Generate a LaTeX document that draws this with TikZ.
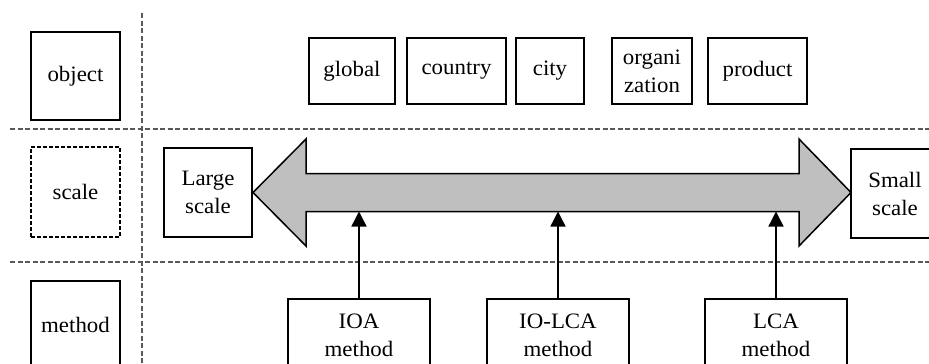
\documentclass[tikz,border=0pt]{standalone}
\usepackage{fontspec}
\setmainfont{Liberation Serif}[FakeStretch=1.04]
\usetikzlibrary{arrows.meta}

\tikzset{
  box/.style={draw, line width=1.5pt, align=center, inner sep=0pt,
    font=\fontsize{22}{28}\selectfont},
  divider/.style={line width=1.4pt, dash pattern=on 5pt off 2.5pt, gray!70!black},
  band/.style={draw, line width=1.5pt, fill=black!25, line join=miter},
  link/.style={line width=1.4pt, -{Triangle[length=15pt,width=15pt]}}
}

\begin{document}
\begin{tikzpicture}[x=1pt, y=-1pt]
\useasboundingbox (0,0) rectangle (929,364);
\clip (0,0) rectangle (929,364);

% row dividers
\draw[divider] (142,13) -- (142,364);
\foreach \y in {129, 262} {
  \draw[divider] (10,\y) -- (929,\y);
}

% row headings
\node[box, minimum width=89pt, minimum height=88pt] (object) at (75.5,76) {object};
\node[box, dashed, dash pattern=on 4pt off 2pt, minimum width=89pt, minimum height=90pt] (scale) at (75.5,192) {scale};
\node[box, minimum width=89pt, minimum height=88pt] (method) at (75.5,325) {method};

% objects
\foreach \name/\x/\w/\txt in {global/352/86/global, country/456.5/99/country,
    city/550/68/city, organization/652/80/{organi\\zation}, product/757.5/99/product} {
  \node[box, minimum width=\w pt, minimum height=66pt] (\name) at (\x,71) {\txt};
}

% scale
\node[box, minimum width=88pt, minimum height=89pt] (large) at (208,192.5) {Large\\scale};
\node[box, minimum width=88pt, minimum height=89pt] (small) at (895,193.5) {Small\\scale};

\draw[band] (253,192.5) -- (306,139) -- (306,173.5) -- (799,173.5) -- (799,139)
  -- (851,192.5) -- (799,246) -- (799,211.5) -- (306,211.5) -- (306,246) -- cycle;
\coordinate (bandbottom) at (0,211.5);

% methods
\foreach \name/\x/\txt in {ioa/359/IOA, iolca/558/IO-LCA, lca/776/LCA} {
  \node[box, minimum width=142pt, minimum height=72pt] (\name) at (\x,335) {\txt\\method};
  \draw[link] (\name.north) -- (\name.north |- bandbottom);
}

\end{tikzpicture}
\end{document}
